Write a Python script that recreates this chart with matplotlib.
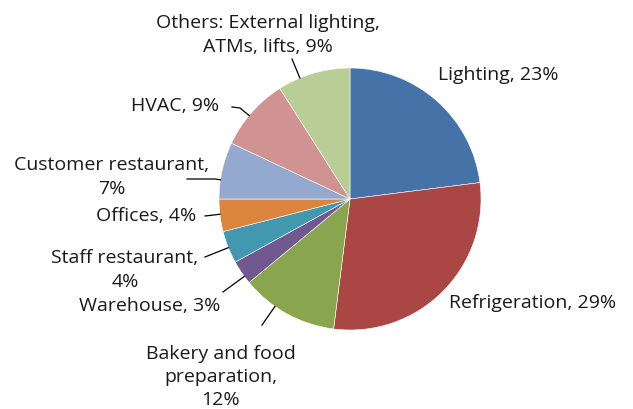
import numpy as np
import matplotlib
matplotlib.use('Agg')
import matplotlib.pyplot as plt

# energy use shares (%), clockwise from 12 o'clock
labels = ['Lighting', 'Refrigeration', 'Bakery and food preparation', 'Warehouse',
          'Staff restaurant', 'Offices', 'Customer restaurant', 'HVAC',
          'Others: External lighting, ATMs, lifts']
shares = [23, 29, 12, 3, 4, 4, 7, 9, 9]
colors = ['#4572A7', '#AA4643', '#89A54E', '#71588F', '#4198AF',
          '#DB843D', '#93A9CF', '#D19392', '#B9CD96']
label_text = ['Lighting, 23%', 'Refrigeration, 29%', 'Bakery and food\npreparation,\n12%',
              'Warehouse, 3%', 'Staff restaurant,\n4%', 'Offices, 4%',
              'Customer restaurant,\n7%', 'HVAC, 9%', 'Others: External lighting,\nATMs, lifts, 9%']

W, H = 633, 410
plt.rcParams['font.family'] = ['Open Sans', 'DejaVu Sans']

fig = plt.figure(figsize=(W / 100, H / 100), dpi=100)
ax = fig.add_axes([0, 0, 1, 1])

cx, cy, r = 350, H - 200, 131
wedges, _ = ax.pie(shares, colors=colors, startangle=90, counterclock=False,
                   center=(cx, cy), radius=r, frame=True,
                   wedgeprops=dict(edgecolor='white', linewidth=0.4))
ax.set_xlim(0, W)
ax.set_ylim(0, H)
ax.axis('off')

# label positions (pixel coords from top-left) and alignment
lab_pos = [(438, 75, 'left'), (449, 303, 'left'), (221, 377, 'center'),
           (220, 306, 'right'), (125, 270, 'center'), (196, 216, 'right'),
           (112, 177, 'center'), (219, 106, 'right'), (268, 35, 'center')]
# leader line points on the label side; the last segment runs to the pie edge
leaders = [None, None, [(262, 326)], [(223, 293)], [(205, 258)],
           [(205, 217)], [(187, 180), (215, 180)],
           [(232, 108), (240, 109)], [(292, 60)]]

for txt, (x, y, ha), lead in zip(label_text, lab_pos, leaders):
    ax.text(x, H - y, txt, ha=ha, va='center', fontsize=14, color='#1a1a1a',
            linespacing=1.37)
    if lead is None:
        continue
    lx, ly = lead[-1][0] - cx, (H - lead[-1][1]) - cy
    d = np.hypot(lx, ly)
    ex, ey = cx + r * lx / d, cy + r * ly / d
    xs = [p[0] for p in lead] + [ex]
    ys = [H - p[1] for p in lead] + [ey]
    ax.plot(xs, ys, color='black', lw=0.9)

fig.savefig('out.png', dpi=100)
